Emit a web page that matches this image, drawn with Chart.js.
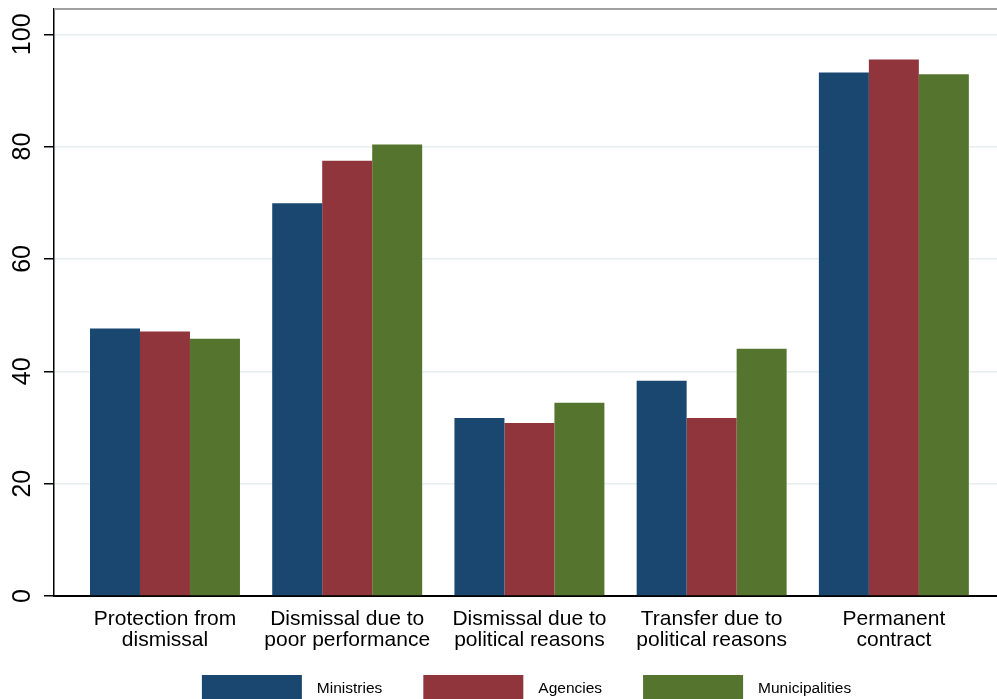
<!DOCTYPE html>
<html>
<head>
<meta charset="utf-8">
<script src="https://cdn.jsdelivr.net/npm/chart.js@4/dist/chart.umd.min.js"></script>
<style>
  html, body { margin: 0; padding: 0; background: #fff; }
  #wrap { width: 997px; height: 699px; }
</style>
</head>
<body>
<div id="wrap"><canvas id="chart" width="997" height="699"></canvas></div>
<script>
// ---- data ----
const categories = [
  ["Protection from", "dismissal"],
  ["Dismissal due to", "poor performance"],
  ["Dismissal due to", "political reasons"],
  ["Transfer due to", "political reasons"],
  ["Permanent", "contract"]
];
const seriesNames = ["Ministries", "Agencies", "Municipalities"];
const ministries = [47.6, 69.9, 31.7, 38.3, 93.2];
const agencies = [47.1, 77.5, 30.8, 31.7, 95.5];
const municipalities = [45.8, 80.4, 34.4, 44.0, 92.9];
const yTicks = [0, 20, 40, 60, 80, 100];

const colors = ["#1a476f", "#90353b", "#55752f"];
const FONT = "'Liberation Sans', Arial, sans-serif";

function toPoints(arr) {
  return arr.map((v, i) => ({ x: i, y: v }));
}

// rotated y tick labels, top frame line and legend
const decorations = {
  id: "decorations",
  afterDraw(chart) {
    const ctx = chart.ctx;
    const area = chart.chartArea;
    const y = chart.scales.y;

    ctx.save();
    // top frame
    ctx.strokeStyle = "#a0a0a0";
    ctx.lineWidth = 2;
    ctx.beginPath();
    ctx.moveTo(area.left, area.top);
    ctx.lineTo(area.right, area.top);
    ctx.stroke();

    // y labels (rotated)
    ctx.fillStyle = "#000";
    ctx.font = "25px " + FONT;
    ctx.textAlign = "center";
    ctx.textBaseline = "middle";
    yTicks.forEach((v) => {
      const py = y.getPixelForValue(v);
      ctx.save();
      ctx.translate(23, py);
      ctx.rotate(-Math.PI / 2);
      ctx.fillText(String(v), 0, 0);
      ctx.restore();
    });

    // legend
    ctx.font = "15.5px " + FONT;
    ctx.textAlign = "left";
    const boxW = 100, boxH = 24, gapText = 15, gapItem = 41;
    const widths = seriesNames.map((n) => boxW + gapText + ctx.measureText(n).width);
    const total = widths.reduce((a, b) => a + b, 0) + gapItem * (seriesNames.length - 1);
    let x = 526.5 - total / 2;
    seriesNames.forEach((n, i) => {
      ctx.fillStyle = colors[i];
      ctx.fillRect(x, 675, boxW, boxH);
      ctx.fillStyle = "#000";
      ctx.fillText(n, x + boxW + gapText, 689);
      x += widths[i] + gapItem;
    });
    ctx.restore();
  }
};

new Chart(document.getElementById("chart"), {
  type: "bar",
  data: {
    datasets: [
      { label: seriesNames[0], data: toPoints(ministries), backgroundColor: colors[0] },
      { label: seriesNames[1], data: toPoints(agencies), backgroundColor: colors[1] },
      { label: seriesNames[2], data: toPoints(municipalities), backgroundColor: colors[2] }
    ]
  },
  options: {
    responsive: false,
    animation: false,
    layout: { padding: { top: 9, left: 0, right: 0, bottom: 0 } },
    datasets: {
      bar: { categoryPercentage: 0.823, barPercentage: 1.0, borderWidth: 0 }
    },
    plugins: {
      legend: { display: false },
      tooltip: { enabled: false }
    },
    scales: {
      x: {
        type: "linear",
        offset: false,
        min: -0.609,
        max: 4.566,
        afterFit(scale) { scale.height = 103; },
        afterBuildTicks(scale) {
          scale.ticks = categories.map((c, i) => ({ value: i }));
        },
        grid: { display: false, drawTicks: false, offset: false },
        border: { display: true, color: "#000", width: 2 },
        ticks: {
          includeBounds: false,
          autoSkip: false,
          maxRotation: 0,
          padding: 13,
          color: "#000",
          font: { family: FONT, size: 21, lineHeight: 1.0 },
          callback: (v) => categories[v] || ""
        }
      },
      y: {
        min: 0,
        max: 104.5,
        afterFit(scale) { scale.width = 54; },
        afterBuildTicks(scale) {
          scale.ticks = yTicks.map((v) => ({ value: v }));
        },
        grid: {
          color: "#e6eef0",
          lineWidth: 1.5,
          drawTicks: true,
          tickLength: 10,
          tickColor: "#000",
          tickWidth: 1.5
        },
        border: { display: true, color: "#000", width: 1.5 },
        ticks: { display: false }
      }
    }
  },
  plugins: [decorations]
});
</script>
</body>
</html>
